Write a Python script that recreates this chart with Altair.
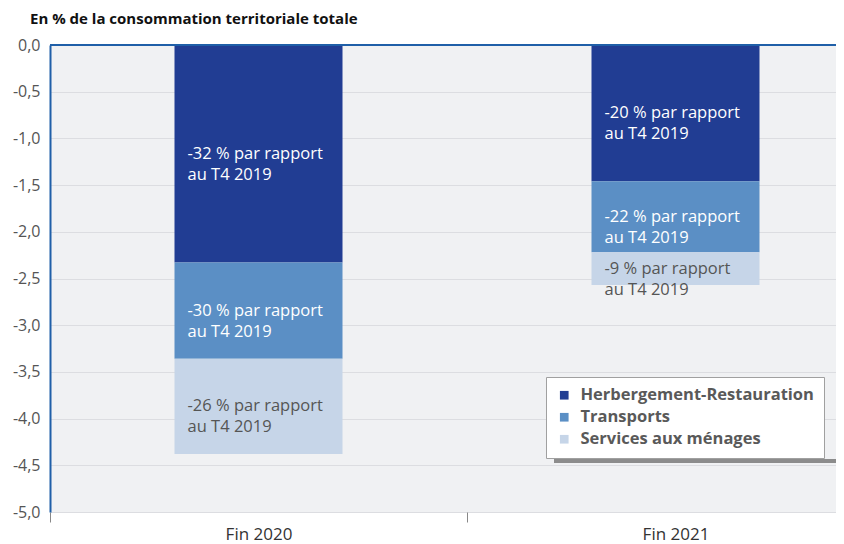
import altair as alt
import pandas as pd

categories = ["Fin 2020", "Fin 2021"]
series = ["Herbergement-Restauration", "Transports", "Services aux ménages"]
values_2020 = [-2.33, -1.03, -1.02]
values_2021 = [-1.46, -0.76, -0.35]
labels_2020 = ["-32 % par rapport\nau T4 2019", "-30 % par rapport\nau T4 2019", "-26 % par rapport\nau T4 2019"]
labels_2021 = ["-20 % par rapport\nau T4 2019", "-22 % par rapport\nau T4 2019", "-9 % par rapport\nau T4 2019"]
colors = ["#213d93", "#5b8fc5", "#c6d5e8"]
text_colors = ["#ffffff", "#ffffff", "#555555"]

rows = []
for cat, vals, labs in [(categories[0], values_2020, labels_2020), (categories[1], values_2021, labels_2021)]:
    cum = 0.0
    for i, (s, v, l) in enumerate(zip(series, vals, labs)):
        top = cum
        cum += v
        rows.append({"cat": cat, "serie": s, "val": v, "order": i, "label": l,
                     "mid": (top + cum) / 2, "tcol": text_colors[i]})
df = pd.DataFrame(rows)

FONT = "Open Sans"
BLUE = "#1f5fa8"

xscale = alt.Scale(domain=categories, range=[0, 834], paddingInner=0, paddingOuter=0)
yscale = alt.Scale(domain=[-5, 0], nice=False)

base = alt.Chart(df)

bars = base.mark_bar(size=168, clip=True).encode(
    x=alt.X("cat:N", scale=xscale, sort=categories,
            axis=alt.Axis(title=None, labelAngle=0, labelFontSize=17, labelColor="#333333",
                          labelFont=FONT, domain=False, ticks=True, tickBand="extent",
                          tickExtra=False, tickColor="#888888",
                          tickSize=10, labelPadding=4, grid=False)),
    y=alt.Y("sum(val):Q", scale=yscale, stack="zero",
            axis=alt.Axis(title=None, values=[0, -0.5, -1, -1.5, -2, -2.5, -3, -3.5, -4, -4.5, -5],
                          labelExpr="replace(replace(format(datum.value, '.1f'), '.', ','), '\u2212', '-')",
                          labelFontSize=16, labelColor="#555555", labelFont=FONT,
                          domainColor=BLUE, domainWidth=2, ticks=False, labelPadding=10,
                          gridColor="#dcdde1", gridWidth=1)),
    color=alt.Color("serie:N", scale=alt.Scale(domain=series, range=colors),
                    legend=alt.Legend(title=None, orient="none", legendX=496, legendY=332,
                                      fillColor="#ffffff", strokeColor="#a0a0a0", padding=10,
                                      labelFontSize=16.5, labelFontWeight="bold", labelColor="#595959",
                                      labelFont=FONT, symbolType="square", symbolSize=75,
                                      symbolStrokeWidth=0, rowPadding=5, labelOffset=8,
                                      labelLimit=400)),
    order=alt.Order("order:Q"),
)

texts = base.mark_text(align="left", baseline="middle", dx=-71, dy=0, fontSize=16.5,
                       font=FONT, lineHeight=21, lineBreak="\n").encode(
    x=alt.X("cat:N", scale=xscale, sort=categories),
    y=alt.Y("mid:Q", scale=yscale),
    text="label:N",
    color=alt.Color("tcol:N", scale=None),
)

top_line = alt.Chart(pd.DataFrame({"y": [0]})).mark_rule(color=BLUE, strokeWidth=2).encode(
    y=alt.Y("y:Q", scale=yscale))

shadow = alt.Chart(pd.DataFrame({"a": [0]})).mark_rule(color="#8c8c8c", strokeWidth=4).encode(
    x=alt.value(504), x2=alt.value(800), y=alt.value(416))

chart = alt.layer(bars, texts, top_line, shadow).properties(
    width=786, height=467,
    title=alt.TitleParams("En % de la consommation territoriale totale", anchor="start",
                          frame="group", fontSize=15, fontWeight="bold", font=FONT, color="#111111",
                          offset=10, dx=-20),
    autosize=alt.AutoSizeParams(type="none"),
    padding={"left": 42, "top": 37, "right": 0, "bottom": 34},
).configure_view(fill="#f0f1f3", stroke=None)

chart.save("out.html", embed_options={"renderer": "svg", "actions": False})
